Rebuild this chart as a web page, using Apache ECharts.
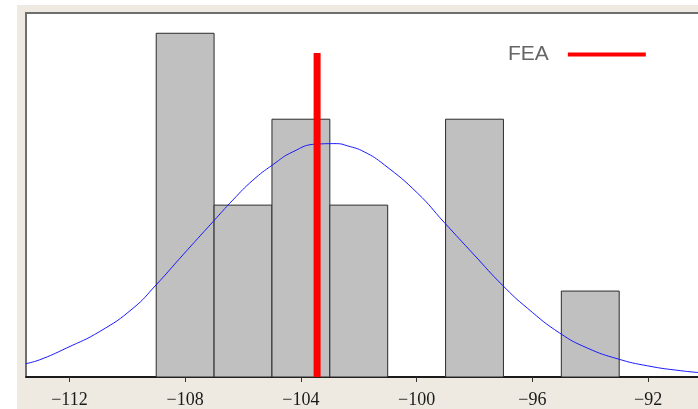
<!DOCTYPE html>
<html>
<head>
<meta charset="utf-8">
<script src="https://cdn.jsdelivr.net/npm/echarts@6/dist/echarts.min.js"></script>
<style>
  html, body { margin: 0; padding: 0; background: #ffffff; width: 698px; height: 409px; overflow: hidden; }
  #chart { position: absolute; left: 17px; top: 5px; width: 689px; height: 404px; }
</style>
</head>
<body>
<div id="chart"></div>
<script>
// Histogram bins (lower edge, upper edge, count)
var binLower = [-109, -107, -105, -103, -99, -95];
var binUpper = [-107, -105, -103, -101, -97, -93];
var binCounts = [4, 2, 3, 2, 3, 1];

// Fitted normal curve
var curveX = [-113.51, -113.03, -112.10, -110.95, -109.80, -109.01, -108.08, -107.03, -106.35, -105.66, -104.97, -104.28, -103.47, -102.78, -102.39, -101.81, -101.12, -99.97, -99.05, -98.01, -97.04, -96.17, -95.05, -94.10, -93.04, -92.02, -90.87, -90.0];
var curveY = [0.155, 0.20, 0.337, 0.53, 0.80, 1.07, 1.42, 1.81, 2.06, 2.29, 2.47, 2.62, 2.71, 2.716, 2.69, 2.62, 2.47, 2.14, 1.80, 1.42, 1.07, 0.80, 0.51, 0.337, 0.21, 0.13, 0.073, 0.045];

// FEA reference value
var feaName = 'FEA';
var feaX = -103.44;
var feaTop = 3.77;

// X axis tick labels
var tickLabels = [-112, -108, -104, -100, -96, -92];

var histData = binLower.map(function (lo, i) { return [lo, binUpper[i], binCounts[i]]; });
var curveData = curveX.map(function (x, i) { return [x, curveY[i]]; });
var feaData = [[feaX, 0], [feaX, feaTop]];

var chart = echarts.init(document.getElementById('chart'), null, { renderer: 'canvas' });
chart.setOption({
  animation: false,
  backgroundColor: '#eeeae1',
  grid: {
    left: 9, right: 0, top: 8, bottom: 32,
    show: true, backgroundColor: '#ffffff', borderColor: '#6e6e6e', borderWidth: 2
  },
  legend: {
    data: [feaName],
    left: 486, top: 34,
    icon: 'rect',
    itemWidth: 78, itemHeight: 4,
    align: 'right',
    itemStyle: { color: '#ff0000' },
    textStyle: { color: '#666666', fontSize: 21, fontFamily: 'Arial, "Liberation Sans", sans-serif', padding: [0, 14, 0, 0] }
  },
  xAxis: {
    type: 'value',
    min: -113.5, max: -90,
    splitLine: { show: false },
    axisLine: { show: true, onZero: false, lineStyle: { color: '#000000', width: 1.5 } },
    axisTick: { show: true, customValues: tickLabels, length: 5, lineStyle: { color: '#333333' } },
    axisLabel: {
      customValues: tickLabels,
      margin: 14,
      color: '#1a1a1a',
      fontSize: 18,
      fontFamily: '"Liberation Serif", "DejaVu Serif", serif',
      formatter: function (v) { return String(v).replace('-', '\u2212'); }
    }
  },
  yAxis: {
    type: 'value', min: 0, max: 4.236, show: false,
    splitLine: { show: false }
  },
  series: [
    {
      type: 'custom',
      name: 'hist',
      data: histData,
      encode: { x: [0, 1], y: 2 },
      renderItem: function (params, api) {
        var p0 = api.coord([api.value(0), 0]);
        var p1 = api.coord([api.value(1), api.value(2)]);
        return {
          type: 'rect',
          shape: { x: p0[0], y: p1[1], width: p1[0] - p0[0], height: p0[1] - p1[1] },
          style: { fill: '#c0c0c0', stroke: '#2b2b2b', lineWidth: 1 }
        };
      },
      z: 1
    },
    {
      type: 'line',
      name: 'fit',
      data: curveData,
      smooth: true,
      showSymbol: false,
      symbol: 'none',
      lineStyle: { color: '#1a1aff', width: 1 },
      z: 2
    },
    {
      type: 'line',
      name: feaName,
      data: feaData,
      showSymbol: false,
      symbol: 'none',
      color: '#ff0000',
      lineStyle: { color: '#ff0000', width: 7, cap: 'butt' },
      z: 3
    }
  ]
});
</script>
</body>
</html>
